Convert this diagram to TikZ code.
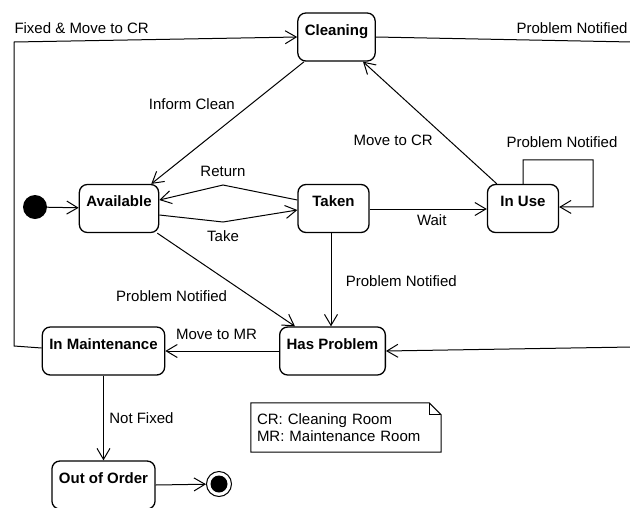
\documentclass[tikz,border=0pt]{standalone}
\usepackage{fontspec}
\setmainfont{Liberation Sans}
\usetikzlibrary{arrows.meta}
\begin{document}
\begin{tikzpicture}[x=1pt, y=-1pt, font=\fontsize{15}{17}\selectfont]
	\tikzstyle{statebox} = [draw, rounded corners=8, line width=1.3, minimum width=71, inner xsep=7, inner ysep=0,
			text height=22, text depth=26, font=\fontsize{15}{17}\selectfont\bfseries]
	\tikzstyle{trans} = [-{Straight Barb[length=11pt,width=13pt]}, line width=1]
	\tikzstyle{startdot} = [circle, fill, minimum size=24, inner sep=0]
	\tikzstyle{enddot} = [circle, draw, line width=1, minimum size=25, inner sep=0,
			path picture={\fill (path picture bounding box.center) circle (8.5pt);}]
	\tikzstyle{notetext} = [align=left, text width=178, inner xsep=6, minimum height=49]

	\useasboundingbox (0,0) rectangle (630,507);

	\node [statebox] (clean) at (336.5,37) {Cleaning};
	\node [startdot] (start) at (35,207) {};
	\node [statebox] (avail) at (119,208.5) {Available};
	\node [statebox] (taken) at (333.5,208.5) {Taken};
	\node [statebox] (inuse) at (523,208.5) {In Use};
	\node [statebox] (maint) at (103.5,351) {In Maintenance};
	\node [statebox] (prob) at (332.5,351) {Has Problem};
	\node [statebox] (ooo) at (103.5,485) {Out of Order};
	\node [enddot] (end) at (219,484) {};
	\node [notetext] (note) at (346,427.5) {CR: Cleaning Room\\MR: Maintenance Room};

	\draw [line width=1] (note.south west) -- (note.north west) -- ([xshift=-12]note.north east)
		-- ([yshift=-12]note.north east) -- (note.south east) -- cycle;
	\draw [line width=1] ([xshift=-12]note.north east) -- ++(0,12) -- ++(12,0);

	\draw [trans] (start) -- (avail);
	\draw [trans] ([xshift=7]clean.south west) -- node [pos=.35, left=12pt] {Inform Clean} ([xshift=-8]avail.north east);
	\draw [trans] ([yshift=8.5]taken.west) -- (223,185) node [above=5pt] {Return} -- ([yshift=8.5]avail.east);
	\draw [trans] ([yshift=-6.5]avail.east) -- (223,222) node [below=5pt] {Take} -- ([yshift=-1.5]taken.west);
	\draw [trans] ([yshift=-0.5]taken.east) -- node [pos=.53, below=2pt] {Wait} ([yshift=-0.5]inuse.west);
	\draw [trans] ([xshift=10]inuse.north west) -- node [pos=.36, left=12pt] {Move to CR} ([xshift=26.5]clean.south);
	\draw [trans] (inuse.north) -- ++(0,-24) -- node [above=8pt, xshift=4pt] {Problem Notified} ++(70,0)
		-- ++(0,47) -- ([yshift=1.5]inuse.east);
	\draw [trans] ([xshift=-2]avail.south east) -- node [pos=.68, left=20pt] {Problem Notified} ([xshift=-37.5]prob.north);
	\draw [trans] ([xshift=-2.5]taken.south) -- node [pos=.52, right=11pt] {Problem Notified} ([xshift=-1.5]prob.north);
	\draw [trans] (prob.west) -- node [pos=.55, above=8pt] {Move to MR} (maint.east);
	\draw [trans] (maint.south) -- node [right=2pt] {Not Fixed} (ooo.north);
	\draw [trans] (ooo.east) -- (end);
	\draw [trans] ([yshift=3]maint.west) -- (14,346) -- (14,42)
		node [anchor=south west, inner sep=0, yshift=7.5pt] {Fixed \& Move to CR} -- (clean.west);
	\draw [trans] (clean.east) -- (632,42)
		node [anchor=south east, inner sep=0, xshift=-4pt, yshift=7.5pt] {Problem Notified} -- (632,347) -- (prob.east);
\end{tikzpicture}
\end{document}
